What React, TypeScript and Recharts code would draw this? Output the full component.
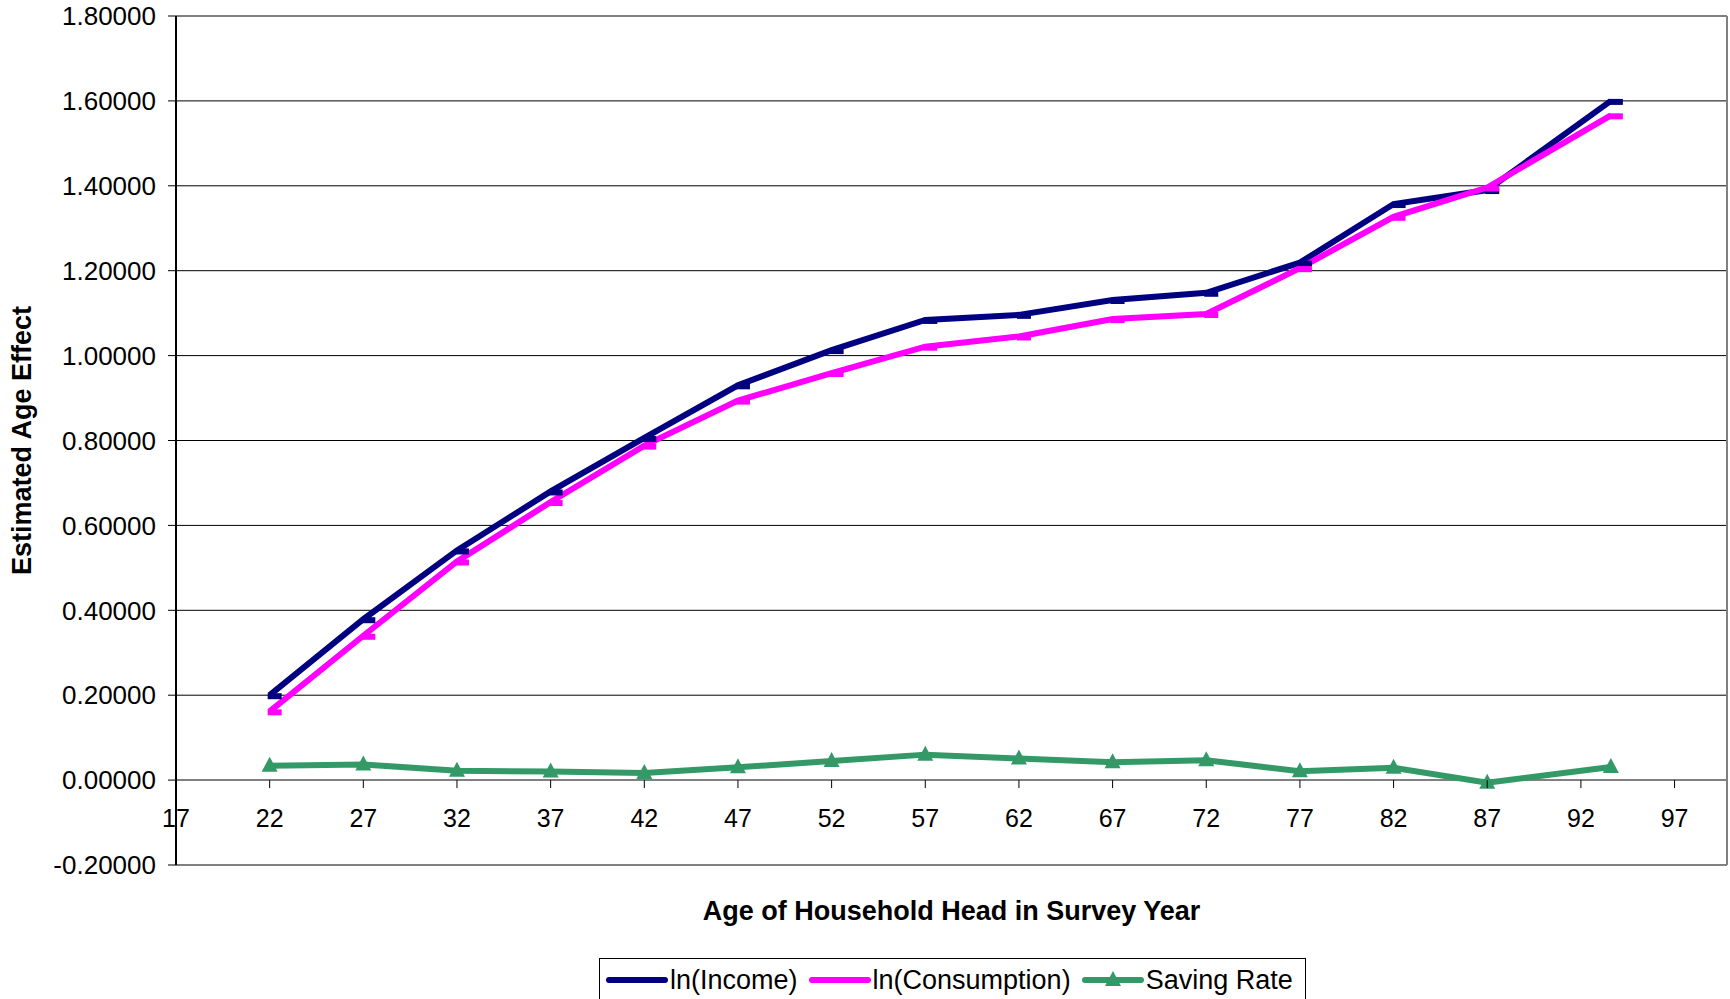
import React from "react"
import {
  CartesianGrid,
  Legend,
  Line,
  LineChart,
  ReferenceLine,
  XAxis,
  YAxis,
} from "recharts"

const ages = [22, 27, 32, 37, 42, 47, 52, 57, 62, 67, 72, 77, 82, 87, 93.6]
const lnIncome = [
  0.2, 0.379, 0.541, 0.68, 0.806, 0.93, 1.013, 1.084, 1.096, 1.131, 1.148,
  1.219, 1.357, 1.39, 1.6,
]
const lnConsumption = [
  0.162, 0.34, 0.515, 0.655, 0.788, 0.894, 0.959, 1.021, 1.045, 1.086, 1.098,
  1.206, 1.327, 1.396, 1.566,
]
const savingRate = [
  0.034, 0.037, 0.022, 0.02, 0.017, 0.03, 0.045, 0.06, 0.051, 0.042, 0.047,
  0.021, 0.029, -0.006, 0.031,
]
const xTicks = [17, 22, 27, 32, 37, 42, 47, 52, 57, 62, 67, 72, 77, 82, 87, 92, 97]
const yTicks = [-0.2, 0, 0.2, 0.4, 0.6, 0.8, 1.0, 1.2, 1.4, 1.6, 1.8]
const legendOrder = ["income", "consumption", "saving"]

const data = ages.map((age, i) => ({
  age,
  income: lnIncome[i],
  consumption: lnConsumption[i],
  saving: savingRate[i],
}))

const FONT = '"Liberation Sans", Arial, sans-serif'
const NAVY = "#000080"
const PINK = "#FF00FF"
const GREEN = "#339966"

const Y_MIN = -0.2
const Y_MAX = 1.8
const PLOT_TOP = 16
const PLOT_H = 849
// distance from the bottom of the plot up to the zero line
const ZERO_SHIFT = (PLOT_H * (0 - Y_MIN)) / (Y_MAX - Y_MIN)

const DashDot = (color: string) => (props: any) => {
  const { cx, cy } = props
  if (cx == null || cy == null) return null
  return <rect x={cx - 2} y={cy - 2} width={14} height={6} fill={color} />
}

const TriangleDot = (props: any) => {
  const { cx, cy } = props
  if (cx == null || cy == null) return null
  return (
    <polygon
      points={`${cx},${cy - 9} ${cx - 8},${cy + 6} ${cx + 8},${cy + 6}`}
      fill={GREEN}
    />
  )
}

const XTick = (props: any) => {
  const { x, y, payload } = props
  const y0 = y - ZERO_SHIFT
  return (
    <g>
      <line x1={x} y1={y0} x2={x} y2={y0 + 8} stroke="#000" strokeWidth={1} />
      <text
        x={x}
        y={y0 + 47}
        textAnchor="middle"
        fontFamily={FONT}
        fontSize={25}
        fill="#000"
      >
        {payload.value}
      </text>
    </g>
  )
}

const renderLegend = (props: any) => {
  const items = [...props.payload].sort(
    (a: any, b: any) =>
      legendOrder.indexOf(a.dataKey) - legendOrder.indexOf(b.dataKey)
  )
  return (
    <div
      style={{
        display: "flex",
        alignItems: "center",
        border: "1px solid #000",
        background: "#fff",
        height: 44,
        padding: "0 2px 0 5px",
        boxSizing: "border-box",
        fontFamily: FONT,
        fontSize: 27,
        color: "#000",
        whiteSpace: "nowrap",
      }}
    >
      {items.map((entry: any) => (
        <div
          key={entry.value}
          style={{ display: "flex", alignItems: "center", marginRight: 10 }}
        >
          <svg width={64} height={20} style={{ marginRight: 1 }}>
            <line
              x1={4}
              y1={10}
              x2={60}
              y2={10}
              stroke={entry.color}
              strokeWidth={6}
              strokeLinecap="round"
            />
            {entry.dataKey === "saving" && (
              <polygon points="32,1 24,16 40,16" fill={entry.color} />
            )}
          </svg>
          <span>{entry.value}</span>
        </div>
      ))}
    </div>
  )
}

export default function App() {
  return (
    <div style={{ position: "absolute", left: 0, top: 0, background: "#fff" }}>
      <LineChart
        width={1730}
        height={999}
        data={data}
        margin={{ top: PLOT_TOP, right: 3, left: 0, bottom: 0 }}
      >
        <CartesianGrid
          vertical={false}
          stroke="#000"
          strokeWidth={1}
          strokeDasharray=""
        />
        <XAxis
          type="number"
          dataKey="age"
          domain={[17, 99.8]}
          ticks={xTicks}
          height={134}
          axisLine={false}
          tickLine={false}
          tickSize={0}
          tickMargin={0}
          tick={<XTick />}
          interval={0}
          label={{
            content: (p: any) => {
              const vb = p.viewBox
              return (
                <text
                  x={vb.x + vb.width / 2}
                  y={vb.y + 55}
                  textAnchor="middle"
                  fontFamily={FONT}
                  fontSize={27}
                  fontWeight="bold"
                  fill="#000"
                >
                  Age of Household Head in Survey Year
                </text>
              )
            },
          }}
        />
        <YAxis
          type="number"
          domain={[Y_MIN, Y_MAX]}
          ticks={yTicks}
          width={176}
          interval={0}
          tickSize={8}
          tickMargin={12}
          axisLine={{ stroke: "#000", strokeWidth: 2 }}
          tickLine={{ stroke: "#000", strokeWidth: 1 }}
          tickFormatter={(v: number) => v.toFixed(5)}
          tick={{ fontFamily: FONT, fontSize: 26, fill: "#000" }}
          label={{
            content: (p: any) => {
              const vb = p.viewBox
              const cx = vb.x + 22
              const cy = vb.y + vb.height / 2
              return (
                <text
                  x={cx}
                  y={cy}
                  transform={`rotate(-90 ${cx} ${cy})`}
                  textAnchor="middle"
                  dominantBaseline="central"
                  fontFamily={FONT}
                  fontSize={27}
                  fontWeight="bold"
                  fill="#000"
                >
                  Estimated Age Effect
                </text>
              )
            },
          }}
        />
        <ReferenceLine y={Y_MAX} stroke="#808080" strokeWidth={2} />
        <ReferenceLine y={Y_MIN} stroke="#808080" strokeWidth={2} />
        <ReferenceLine x={99.8} stroke="#808080" strokeWidth={2} />
        <ReferenceLine y={0} stroke="#808080" strokeWidth={2} />
        <Legend
          layout="horizontal"
          verticalAlign="middle"
          align="center"
          content={renderLegend}
          wrapperStyle={{ left: 599, top: 958, width: "auto" }}
        />
        <Line
          type="linear"
          dataKey="income"
          name="ln(Income)"
          stroke={NAVY}
          strokeWidth={6}
          dot={DashDot(NAVY)}
          activeDot={false}
          isAnimationActive={false}
        />
        <Line
          type="linear"
          dataKey="consumption"
          name="ln(Consumption)"
          stroke={PINK}
          strokeWidth={6}
          dot={DashDot(PINK)}
          activeDot={false}
          isAnimationActive={false}
        />
        <Line
          type="linear"
          dataKey="saving"
          name="Saving Rate"
          stroke={GREEN}
          strokeWidth={6}
          dot={TriangleDot}
          activeDot={false}
          isAnimationActive={false}
        />
      </LineChart>
    </div>
  )
}
